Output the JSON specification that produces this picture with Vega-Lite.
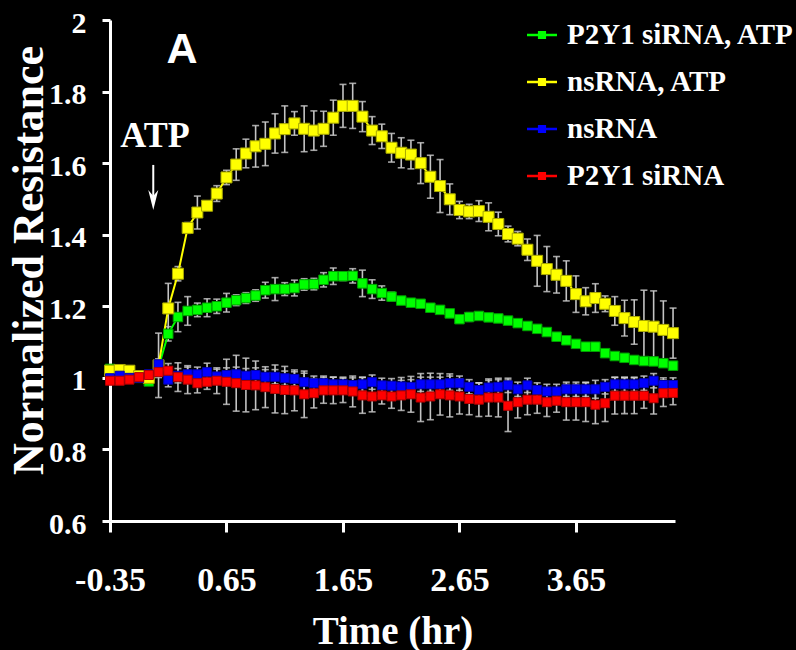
{
  "$schema": "https://vega.github.io/schema/vega-lite/v6.json",
  "width": 565,
  "height": 501,
  "autosize": {"type": "none"},
  "padding": {"left": 110, "top": 20, "right": 121, "bottom": 129},
  "background": "black",
  "config": {"view": {"stroke": null}},
  "datasets": {
    "series": [
      {"s":"P2Y1 siRNA, ATP","t":-0.35,"v":1.025,"e":0.01},
      {"s":"P2Y1 siRNA, ATP","t":-0.2667,"v":1.02,"e":0.01},
      {"s":"P2Y1 siRNA, ATP","t":-0.1833,"v":1.015,"e":0.01},
      {"s":"P2Y1 siRNA, ATP","t":-0.1,"v":1.0,"e":0.01},
      {"s":"P2Y1 siRNA, ATP","t":-0.0167,"v":0.99,"e":0.01},
      {"s":"P2Y1 siRNA, ATP","t":0.0667,"v":1.03,"e":0.01},
      {"s":"P2Y1 siRNA, ATP","t":0.15,"v":1.123,"e":0.02},
      {"s":"P2Y1 siRNA, ATP","t":0.2333,"v":1.17,"e":0.041},
      {"s":"P2Y1 siRNA, ATP","t":0.3167,"v":1.187,"e":0.04},
      {"s":"P2Y1 siRNA, ATP","t":0.4,"v":1.19,"e":0.019},
      {"s":"P2Y1 siRNA, ATP","t":0.4833,"v":1.196,"e":0.025},
      {"s":"P2Y1 siRNA, ATP","t":0.5667,"v":1.2,"e":0.02},
      {"s":"P2Y1 siRNA, ATP","t":0.65,"v":1.21,"e":0.026},
      {"s":"P2Y1 siRNA, ATP","t":0.7333,"v":1.217,"e":0.015},
      {"s":"P2Y1 siRNA, ATP","t":0.8167,"v":1.223,"e":0.015},
      {"s":"P2Y1 siRNA, ATP","t":0.9,"v":1.23,"e":0.016},
      {"s":"P2Y1 siRNA, ATP","t":0.9833,"v":1.245,"e":0.022},
      {"s":"P2Y1 siRNA, ATP","t":1.0667,"v":1.248,"e":0.032},
      {"s":"P2Y1 siRNA, ATP","t":1.15,"v":1.248,"e":0.018},
      {"s":"P2Y1 siRNA, ATP","t":1.2333,"v":1.251,"e":0.022},
      {"s":"P2Y1 siRNA, ATP","t":1.3167,"v":1.261,"e":0.016},
      {"s":"P2Y1 siRNA, ATP","t":1.4,"v":1.262,"e":0.016},
      {"s":"P2Y1 siRNA, ATP","t":1.4833,"v":1.274,"e":0.02},
      {"s":"P2Y1 siRNA, ATP","t":1.5667,"v":1.284,"e":0.023},
      {"s":"P2Y1 siRNA, ATP","t":1.65,"v":1.284,"e":0.012},
      {"s":"P2Y1 siRNA, ATP","t":1.7333,"v":1.285,"e":0.02},
      {"s":"P2Y1 siRNA, ATP","t":1.8167,"v":1.264,"e":0.037},
      {"s":"P2Y1 siRNA, ATP","t":1.9,"v":1.248,"e":0.026},
      {"s":"P2Y1 siRNA, ATP","t":1.9833,"v":1.237,"e":0.02},
      {"s":"P2Y1 siRNA, ATP","t":2.0667,"v":1.227,"e":0.012},
      {"s":"P2Y1 siRNA, ATP","t":2.15,"v":1.216,"e":0.008},
      {"s":"P2Y1 siRNA, ATP","t":2.2333,"v":1.21,"e":0.008},
      {"s":"P2Y1 siRNA, ATP","t":2.3167,"v":1.207,"e":0.008},
      {"s":"P2Y1 siRNA, ATP","t":2.4,"v":1.196,"e":0.008},
      {"s":"P2Y1 siRNA, ATP","t":2.4833,"v":1.19,"e":0.008},
      {"s":"P2Y1 siRNA, ATP","t":2.5667,"v":1.18,"e":0.008},
      {"s":"P2Y1 siRNA, ATP","t":2.65,"v":1.164,"e":0.008},
      {"s":"P2Y1 siRNA, ATP","t":2.7333,"v":1.17,"e":0.012},
      {"s":"P2Y1 siRNA, ATP","t":2.8167,"v":1.173,"e":0.008},
      {"s":"P2Y1 siRNA, ATP","t":2.9,"v":1.169,"e":0.008},
      {"s":"P2Y1 siRNA, ATP","t":2.9833,"v":1.166,"e":0.008},
      {"s":"P2Y1 siRNA, ATP","t":3.0667,"v":1.16,"e":0.008},
      {"s":"P2Y1 siRNA, ATP","t":3.15,"v":1.153,"e":0.008},
      {"s":"P2Y1 siRNA, ATP","t":3.2333,"v":1.145,"e":0.008},
      {"s":"P2Y1 siRNA, ATP","t":3.3167,"v":1.137,"e":0.008},
      {"s":"P2Y1 siRNA, ATP","t":3.4,"v":1.128,"e":0.008},
      {"s":"P2Y1 siRNA, ATP","t":3.4833,"v":1.115,"e":0.008},
      {"s":"P2Y1 siRNA, ATP","t":3.5667,"v":1.105,"e":0.008},
      {"s":"P2Y1 siRNA, ATP","t":3.65,"v":1.095,"e":0.008},
      {"s":"P2Y1 siRNA, ATP","t":3.7333,"v":1.087,"e":0.008},
      {"s":"P2Y1 siRNA, ATP","t":3.8167,"v":1.087,"e":0.008},
      {"s":"P2Y1 siRNA, ATP","t":3.9,"v":1.069,"e":0.008},
      {"s":"P2Y1 siRNA, ATP","t":3.9833,"v":1.061,"e":0.008},
      {"s":"P2Y1 siRNA, ATP","t":4.0667,"v":1.056,"e":0.008},
      {"s":"P2Y1 siRNA, ATP","t":4.15,"v":1.05,"e":0.008},
      {"s":"P2Y1 siRNA, ATP","t":4.2333,"v":1.047,"e":0.008},
      {"s":"P2Y1 siRNA, ATP","t":4.3167,"v":1.046,"e":0.008},
      {"s":"P2Y1 siRNA, ATP","t":4.4,"v":1.041,"e":0.008},
      {"s":"P2Y1 siRNA, ATP","t":4.4833,"v":1.034,"e":0.008},

      {"s":"nsRNA, ATP","t":-0.35,"v":1.02,"e":0.01},
      {"s":"nsRNA, ATP","t":-0.2667,"v":1.022,"e":0.01},
      {"s":"nsRNA, ATP","t":-0.1833,"v":1.02,"e":0.01},
      {"s":"nsRNA, ATP","t":-0.1,"v":1.005,"e":0.01},
      {"s":"nsRNA, ATP","t":-0.0167,"v":1.0,"e":0.01},
      {"s":"nsRNA, ATP","t":0.0667,"v":1.035,"e":0.09},
      {"s":"nsRNA, ATP","t":0.15,"v":1.194,"e":0.07},
      {"s":"nsRNA, ATP","t":0.2333,"v":1.291,"e":0.02},
      {"s":"nsRNA, ATP","t":0.3167,"v":1.419,"e":0.015},
      {"s":"nsRNA, ATP","t":0.4,"v":1.462,"e":0.046},
      {"s":"nsRNA, ATP","t":0.4833,"v":1.481,"e":0.01},
      {"s":"nsRNA, ATP","t":0.5667,"v":1.515,"e":0.022},
      {"s":"nsRNA, ATP","t":0.65,"v":1.56,"e":0.02},
      {"s":"nsRNA, ATP","t":0.7333,"v":1.596,"e":0.044},
      {"s":"nsRNA, ATP","t":0.8167,"v":1.627,"e":0.04},
      {"s":"nsRNA, ATP","t":0.9,"v":1.647,"e":0.058},
      {"s":"nsRNA, ATP","t":0.9833,"v":1.654,"e":0.061},
      {"s":"nsRNA, ATP","t":1.0667,"v":1.683,"e":0.055},
      {"s":"nsRNA, ATP","t":1.15,"v":1.695,"e":0.065},
      {"s":"nsRNA, ATP","t":1.2333,"v":1.711,"e":0.033},
      {"s":"nsRNA, ATP","t":1.3167,"v":1.696,"e":0.064},
      {"s":"nsRNA, ATP","t":1.4,"v":1.691,"e":0.055},
      {"s":"nsRNA, ATP","t":1.4833,"v":1.696,"e":0.049},
      {"s":"nsRNA, ATP","t":1.5667,"v":1.727,"e":0.049},
      {"s":"nsRNA, ATP","t":1.65,"v":1.76,"e":0.06},
      {"s":"nsRNA, ATP","t":1.7333,"v":1.76,"e":0.063},
      {"s":"nsRNA, ATP","t":1.8167,"v":1.73,"e":0.042},
      {"s":"nsRNA, ATP","t":1.9,"v":1.691,"e":0.039},
      {"s":"nsRNA, ATP","t":1.9833,"v":1.675,"e":0.034},
      {"s":"nsRNA, ATP","t":2.0667,"v":1.643,"e":0.04},
      {"s":"nsRNA, ATP","t":2.15,"v":1.629,"e":0.042},
      {"s":"nsRNA, ATP","t":2.2333,"v":1.624,"e":0.04},
      {"s":"nsRNA, ATP","t":2.3167,"v":1.6,"e":0.057},
      {"s":"nsRNA, ATP","t":2.4,"v":1.562,"e":0.06},
      {"s":"nsRNA, ATP","t":2.4833,"v":1.536,"e":0.074},
      {"s":"nsRNA, ATP","t":2.5667,"v":1.499,"e":0.043},
      {"s":"nsRNA, ATP","t":2.65,"v":1.469,"e":0.024},
      {"s":"nsRNA, ATP","t":2.7333,"v":1.465,"e":0.02},
      {"s":"nsRNA, ATP","t":2.8167,"v":1.466,"e":0.029},
      {"s":"nsRNA, ATP","t":2.9,"v":1.45,"e":0.039},
      {"s":"nsRNA, ATP","t":2.9833,"v":1.43,"e":0.033},
      {"s":"nsRNA, ATP","t":3.0667,"v":1.402,"e":0.022},
      {"s":"nsRNA, ATP","t":3.15,"v":1.389,"e":0.02},
      {"s":"nsRNA, ATP","t":3.2333,"v":1.358,"e":0.03},
      {"s":"nsRNA, ATP","t":3.3167,"v":1.327,"e":0.071},
      {"s":"nsRNA, ATP","t":3.4,"v":1.304,"e":0.063},
      {"s":"nsRNA, ATP","t":3.4833,"v":1.288,"e":0.051},
      {"s":"nsRNA, ATP","t":3.5667,"v":1.271,"e":0.056},
      {"s":"nsRNA, ATP","t":3.65,"v":1.234,"e":0.051},
      {"s":"nsRNA, ATP","t":3.7333,"v":1.214,"e":0.038},
      {"s":"nsRNA, ATP","t":3.8167,"v":1.223,"e":0.04},
      {"s":"nsRNA, ATP","t":3.9,"v":1.207,"e":0.022},
      {"s":"nsRNA, ATP","t":3.9833,"v":1.187,"e":0.04},
      {"s":"nsRNA, ATP","t":4.0667,"v":1.167,"e":0.05},
      {"s":"nsRNA, ATP","t":4.15,"v":1.156,"e":0.062},
      {"s":"nsRNA, ATP","t":4.2333,"v":1.145,"e":0.1},
      {"s":"nsRNA, ATP","t":4.3167,"v":1.143,"e":0.1},
      {"s":"nsRNA, ATP","t":4.4,"v":1.134,"e":0.081},
      {"s":"nsRNA, ATP","t":4.4833,"v":1.125,"e":0.07},

      {"s":"nsRNA","t":-0.35,"v":0.999,"e":0.01},
      {"s":"nsRNA","t":-0.2667,"v":1.006,"e":0.01},
      {"s":"nsRNA","t":-0.1833,"v":1.0,"e":0.01},
      {"s":"nsRNA","t":-0.1,"v":1.0,"e":0.01},
      {"s":"nsRNA","t":-0.0167,"v":1.01,"e":0.01},
      {"s":"nsRNA","t":0.0667,"v":1.038,"e":0.015},
      {"s":"nsRNA","t":0.15,"v":0.995,"e":0.02},
      {"s":"nsRNA","t":0.2333,"v":1.006,"e":0.02},
      {"s":"nsRNA","t":0.3167,"v":1.01,"e":0.02},
      {"s":"nsRNA","t":0.4,"v":1.01,"e":0.02},
      {"s":"nsRNA","t":0.4833,"v":1.016,"e":0.025},
      {"s":"nsRNA","t":0.5667,"v":1.004,"e":0.02},
      {"s":"nsRNA","t":0.65,"v":1.008,"e":0.02},
      {"s":"nsRNA","t":0.7333,"v":1.01,"e":0.02},
      {"s":"nsRNA","t":0.8167,"v":1.006,"e":0.02},
      {"s":"nsRNA","t":0.9,"v":1.008,"e":0.02},
      {"s":"nsRNA","t":0.9833,"v":1.003,"e":0.02},
      {"s":"nsRNA","t":1.0667,"v":1.003,"e":0.02},
      {"s":"nsRNA","t":1.15,"v":0.999,"e":0.02},
      {"s":"nsRNA","t":1.2333,"v":0.997,"e":0.02},
      {"s":"nsRNA","t":1.3167,"v":0.988,"e":0.025},
      {"s":"nsRNA","t":1.4,"v":0.985,"e":0.02},
      {"s":"nsRNA","t":1.4833,"v":0.985,"e":0.02},
      {"s":"nsRNA","t":1.5667,"v":0.982,"e":0.02},
      {"s":"nsRNA","t":1.65,"v":0.982,"e":0.02},
      {"s":"nsRNA","t":1.7333,"v":0.98,"e":0.02},
      {"s":"nsRNA","t":1.8167,"v":0.982,"e":0.02},
      {"s":"nsRNA","t":1.9,"v":0.988,"e":0.02},
      {"s":"nsRNA","t":1.9833,"v":0.979,"e":0.02},
      {"s":"nsRNA","t":2.0667,"v":0.978,"e":0.02},
      {"s":"nsRNA","t":2.15,"v":0.976,"e":0.025},
      {"s":"nsRNA","t":2.2333,"v":0.975,"e":0.02},
      {"s":"nsRNA","t":2.3167,"v":0.982,"e":0.02},
      {"s":"nsRNA","t":2.4,"v":0.982,"e":0.02},
      {"s":"nsRNA","t":2.4833,"v":0.982,"e":0.02},
      {"s":"nsRNA","t":2.5667,"v":0.985,"e":0.02},
      {"s":"nsRNA","t":2.65,"v":0.985,"e":0.02},
      {"s":"nsRNA","t":2.7333,"v":0.975,"e":0.02},
      {"s":"nsRNA","t":2.8167,"v":0.966,"e":0.02},
      {"s":"nsRNA","t":2.9,"v":0.973,"e":0.02},
      {"s":"nsRNA","t":2.9833,"v":0.975,"e":0.02},
      {"s":"nsRNA","t":3.0667,"v":0.979,"e":0.02},
      {"s":"nsRNA","t":3.15,"v":0.968,"e":0.02},
      {"s":"nsRNA","t":3.2333,"v":0.979,"e":0.02},
      {"s":"nsRNA","t":3.3167,"v":0.966,"e":0.02},
      {"s":"nsRNA","t":3.4,"v":0.962,"e":0.02},
      {"s":"nsRNA","t":3.4833,"v":0.962,"e":0.02},
      {"s":"nsRNA","t":3.5667,"v":0.968,"e":0.02},
      {"s":"nsRNA","t":3.65,"v":0.968,"e":0.02},
      {"s":"nsRNA","t":3.7333,"v":0.968,"e":0.02},
      {"s":"nsRNA","t":3.8167,"v":0.968,"e":0.025},
      {"s":"nsRNA","t":3.9,"v":0.975,"e":0.02},
      {"s":"nsRNA","t":3.9833,"v":0.982,"e":0.02},
      {"s":"nsRNA","t":4.0667,"v":0.982,"e":0.02},
      {"s":"nsRNA","t":4.15,"v":0.982,"e":0.02},
      {"s":"nsRNA","t":4.2333,"v":0.985,"e":0.02},
      {"s":"nsRNA","t":4.3167,"v":0.992,"e":0.02},
      {"s":"nsRNA","t":4.4,"v":0.98,"e":0.02},
      {"s":"nsRNA","t":4.4833,"v":0.98,"e":0.02},

      {"s":"P2Y1 siRNA","t":-0.35,"v":0.992,"e":0.01},
      {"s":"P2Y1 siRNA","t":-0.2667,"v":0.992,"e":0.01},
      {"s":"P2Y1 siRNA","t":-0.1833,"v":0.995,"e":0.01},
      {"s":"P2Y1 siRNA","t":-0.1,"v":1.002,"e":0.01},
      {"s":"P2Y1 siRNA","t":-0.0167,"v":1.008,"e":0.01},
      {"s":"P2Y1 siRNA","t":0.0667,"v":1.016,"e":0.015},
      {"s":"P2Y1 siRNA","t":0.15,"v":1.02,"e":0.02},
      {"s":"P2Y1 siRNA","t":0.2333,"v":1.002,"e":0.04},
      {"s":"P2Y1 siRNA","t":0.3167,"v":0.995,"e":0.039},
      {"s":"P2Y1 siRNA","t":0.4,"v":0.985,"e":0.027},
      {"s":"P2Y1 siRNA","t":0.4833,"v":0.989,"e":0.021},
      {"s":"P2Y1 siRNA","t":0.5667,"v":0.992,"e":0.036},
      {"s":"P2Y1 siRNA","t":0.65,"v":0.989,"e":0.063},
      {"s":"P2Y1 siRNA","t":0.7333,"v":0.985,"e":0.078},
      {"s":"P2Y1 siRNA","t":0.8167,"v":0.98,"e":0.075},
      {"s":"P2Y1 siRNA","t":0.9,"v":0.979,"e":0.068},
      {"s":"P2Y1 siRNA","t":0.9833,"v":0.974,"e":0.057},
      {"s":"P2Y1 siRNA","t":1.0667,"v":0.969,"e":0.067},
      {"s":"P2Y1 siRNA","t":1.15,"v":0.966,"e":0.066},
      {"s":"P2Y1 siRNA","t":1.2333,"v":0.965,"e":0.057},
      {"s":"P2Y1 siRNA","t":1.3167,"v":0.954,"e":0.065},
      {"s":"P2Y1 siRNA","t":1.4,"v":0.957,"e":0.041},
      {"s":"P2Y1 siRNA","t":1.4833,"v":0.965,"e":0.036},
      {"s":"P2Y1 siRNA","t":1.5667,"v":0.965,"e":0.037},
      {"s":"P2Y1 siRNA","t":1.65,"v":0.965,"e":0.034},
      {"s":"P2Y1 siRNA","t":1.7333,"v":0.962,"e":0.043},
      {"s":"P2Y1 siRNA","t":1.8167,"v":0.951,"e":0.05},
      {"s":"P2Y1 siRNA","t":1.9,"v":0.948,"e":0.043},
      {"s":"P2Y1 siRNA","t":1.9833,"v":0.951,"e":0.024},
      {"s":"P2Y1 siRNA","t":2.0667,"v":0.948,"e":0.033},
      {"s":"P2Y1 siRNA","t":2.15,"v":0.951,"e":0.042},
      {"s":"P2Y1 siRNA","t":2.2333,"v":0.954,"e":0.05},
      {"s":"P2Y1 siRNA","t":2.3167,"v":0.945,"e":0.067},
      {"s":"P2Y1 siRNA","t":2.4,"v":0.948,"e":0.065},
      {"s":"P2Y1 siRNA","t":2.4833,"v":0.954,"e":0.058},
      {"s":"P2Y1 siRNA","t":2.5667,"v":0.951,"e":0.06},
      {"s":"P2Y1 siRNA","t":2.65,"v":0.948,"e":0.049},
      {"s":"P2Y1 siRNA","t":2.7333,"v":0.941,"e":0.044},
      {"s":"P2Y1 siRNA","t":2.8167,"v":0.939,"e":0.047},
      {"s":"P2Y1 siRNA","t":2.9,"v":0.945,"e":0.052},
      {"s":"P2Y1 siRNA","t":2.9833,"v":0.945,"e":0.054},
      {"s":"P2Y1 siRNA","t":3.0667,"v":0.922,"e":0.072},
      {"s":"P2Y1 siRNA","t":3.15,"v":0.932,"e":0.044},
      {"s":"P2Y1 siRNA","t":3.2333,"v":0.939,"e":0.042},
      {"s":"P2Y1 siRNA","t":3.3167,"v":0.939,"e":0.038},
      {"s":"P2Y1 siRNA","t":3.4,"v":0.932,"e":0.04},
      {"s":"P2Y1 siRNA","t":3.4833,"v":0.936,"e":0.032},
      {"s":"P2Y1 siRNA","t":3.5667,"v":0.932,"e":0.05},
      {"s":"P2Y1 siRNA","t":3.65,"v":0.932,"e":0.05},
      {"s":"P2Y1 siRNA","t":3.7333,"v":0.932,"e":0.054},
      {"s":"P2Y1 siRNA","t":3.8167,"v":0.925,"e":0.053},
      {"s":"P2Y1 siRNA","t":3.9,"v":0.929,"e":0.051},
      {"s":"P2Y1 siRNA","t":3.9833,"v":0.95,"e":0.051},
      {"s":"P2Y1 siRNA","t":4.0667,"v":0.95,"e":0.05},
      {"s":"P2Y1 siRNA","t":4.15,"v":0.95,"e":0.05},
      {"s":"P2Y1 siRNA","t":4.2333,"v":0.95,"e":0.035},
      {"s":"P2Y1 siRNA","t":4.3167,"v":0.943,"e":0.044},
      {"s":"P2Y1 siRNA","t":4.4,"v":0.957,"e":0.037},
      {"s":"P2Y1 siRNA","t":4.4833,"v":0.958,"e":0.033}
    ],
    "notes": [
      {"label": "A"}
    ]
  },
  "layer": [
    {
      "data": {"name": "series"},
      "mark": {
        "type": "errorbar",
        "rule": {"color": "#c4c4c4", "strokeWidth": 1.6},
        "ticks": {"color": "#e8e8e8", "size": 7, "thickness": 1.6}
      },
      "encoding": {
        "x": {
          "field": "t", "type": "quantitative",
          "scale": {"domain": [-0.35, 4.5], "nice": false, "zero": false},
          "axis": {
            "title": "Time (hr)",
            "values": [-0.35, 0.65, 1.65, 2.65, 3.65],
            "labelExpr": "'' + datum.value",
            "grid": false,
            "domainColor": "white", "domainWidth": 3,
            "tickColor": "white", "tickWidth": 3, "tickSize": 11,
            "labelColor": "white", "labelFont": "Liberation Serif", "labelFontWeight": "bold",
            "labelFontSize": 34, "labelPadding": 31, "labelFlush": false, "labelOverlap": false,
            "titleColor": "white", "titleFont": "Liberation Serif", "titleFontWeight": "bold",
            "titleFontSize": 39, "titleY": 122, "titleBaseline": "alphabetic"
          }
        },
        "y": {
          "field": "v", "type": "quantitative",
          "scale": {"domain": [0.6, 2], "nice": false, "zero": false},
          "axis": {
            "title": "Normalized Resistance",
            "values": [0.6, 0.8, 1, 1.2, 1.4, 1.6, 1.8, 2],
            "labelExpr": "'' + datum.value",
            "grid": false,
            "domainColor": "white", "domainWidth": 3,
            "tickColor": "white", "tickWidth": 3, "tickSize": 8,
            "labelColor": "white", "labelFont": "Liberation Serif", "labelFontWeight": "bold",
            "labelFontSize": 30, "labelPadding": 16, "labelOffset": 3, "labelOverlap": false,
            "titleColor": "white", "titleFont": "Liberation Serif", "titleFontWeight": "bold",
            "titleFontSize": 44, "titleX": -68, "titleY": 240, "titleBaseline": "alphabetic"
          }
        },
        "yError": {"field": "e"}
      }
    },
    {
      "data": {"name": "series"},
      "mark": {"type": "line", "strokeWidth": 2},
      "encoding": {
        "x": {"field": "t", "type": "quantitative"},
        "y": {"field": "v", "type": "quantitative"},
        "color": {
          "field": "s", "type": "nominal",
          "scale": {"domain": ["P2Y1 siRNA, ATP", "nsRNA, ATP", "nsRNA", "P2Y1 siRNA"], "range": ["#00ff00", "#ffff00", "#0000ff", "#ff0000"]},
          "legend": {
            "title": null,
            "orient": "none", "legendX": 417, "legendY": 0,
            "padding": 0,
            "symbolType": "M-1,-0.02L1,-0.02L1,0.02L-1,0.02Z M-0.22,-0.22L0.22,-0.22L0.22,0.22L-0.22,0.22Z",
            "symbolSize": 784, "symbolStrokeWidth": 2, "symbolOpacity": 1,
            "labelFont": "Liberation Serif", "labelFontWeight": "bold", "labelFontSize": 29,
            "labelColor": "white", "labelOffset": 10, "labelLimit": 400, "rowPadding": 17,
            "encode": {
              "symbols": {"update": {"fill": {"scale": "color", "field": "value"}, "fillOpacity": {"value": 1}}}
            }
          }
        }
      }
    },
    {
      "data": {"name": "series"},
      "transform": [{"filter": "datum.s === 'P2Y1 siRNA, ATP'"}],
      "mark": {"type": "point", "shape": "square", "filled": true, "opacity": 1, "fill": "#00ff00", "stroke": "#00a000", "strokeWidth": 1, "size": 90},
      "encoding": {
        "x": {"field": "t", "type": "quantitative"},
        "y": {"field": "v", "type": "quantitative"}
      }
    },
    {
      "data": {"name": "series"},
      "transform": [{"filter": "datum.s === 'nsRNA, ATP'"}],
      "mark": {"type": "point", "shape": "square", "filled": true, "opacity": 1, "fill": "#ffff00", "stroke": "#a8a800", "strokeWidth": 1, "size": 121},
      "encoding": {
        "x": {"field": "t", "type": "quantitative"},
        "y": {"field": "v", "type": "quantitative"}
      }
    },
    {
      "data": {"name": "series"},
      "transform": [{"filter": "datum.s === 'nsRNA'"}],
      "mark": {"type": "point", "shape": "square", "filled": true, "opacity": 1, "fill": "#0000ff", "stroke": "#0000b0", "strokeWidth": 1, "size": 81},
      "encoding": {
        "x": {"field": "t", "type": "quantitative"},
        "y": {"field": "v", "type": "quantitative"}
      }
    },
    {
      "data": {"name": "series"},
      "transform": [{"filter": "datum.s === 'P2Y1 siRNA'"}],
      "mark": {"type": "point", "shape": "square", "filled": true, "opacity": 1, "fill": "#ff0000", "stroke": "#b00000", "strokeWidth": 1, "size": 81},
      "encoding": {
        "x": {"field": "t", "type": "quantitative"},
        "y": {"field": "v", "type": "quantitative"}
      }
    },
    {
      "data": {"name": "notes"},
      "mark": {"type": "text", "text": "A", "font": "Liberation Sans", "fontWeight": "bold", "fontSize": 43, "fill": "white", "align": "center", "baseline": "alphabetic"},
      "encoding": {"x": {"datum": 0.2675, "type": "quantitative"}, "y": {"datum": 1.88, "type": "quantitative"}}
    },
    {
      "data": {"name": "notes"},
      "mark": {"type": "text", "text": "ATP", "font": "Liberation Serif", "fontWeight": "bold", "fontSize": 36, "fill": "white", "align": "center", "baseline": "alphabetic"},
      "encoding": {"x": {"datum": 0.036, "type": "quantitative"}, "y": {"datum": 1.645, "type": "quantitative"}}
    },
    {
      "data": {"name": "notes"},
      "mark": {"type": "rule", "stroke": "white", "strokeWidth": 2},
      "encoding": {"x": {"datum": 0.0214, "type": "quantitative"}, "y": {"datum": 1.595, "type": "quantitative"}, "y2": {"datum": 1.5}}
    },
    {
      "data": {"name": "notes"},
      "mark": {"type": "point", "shape": "M0,1L-0.5,-1L0,-0.4L0.5,-1Z", "filled": true, "fill": "white", "opacity": 1, "size": 400},
      "encoding": {"x": {"datum": 0.0214, "type": "quantitative"}, "y": {"datum": 1.497, "type": "quantitative"}}
    }
  ]
}
